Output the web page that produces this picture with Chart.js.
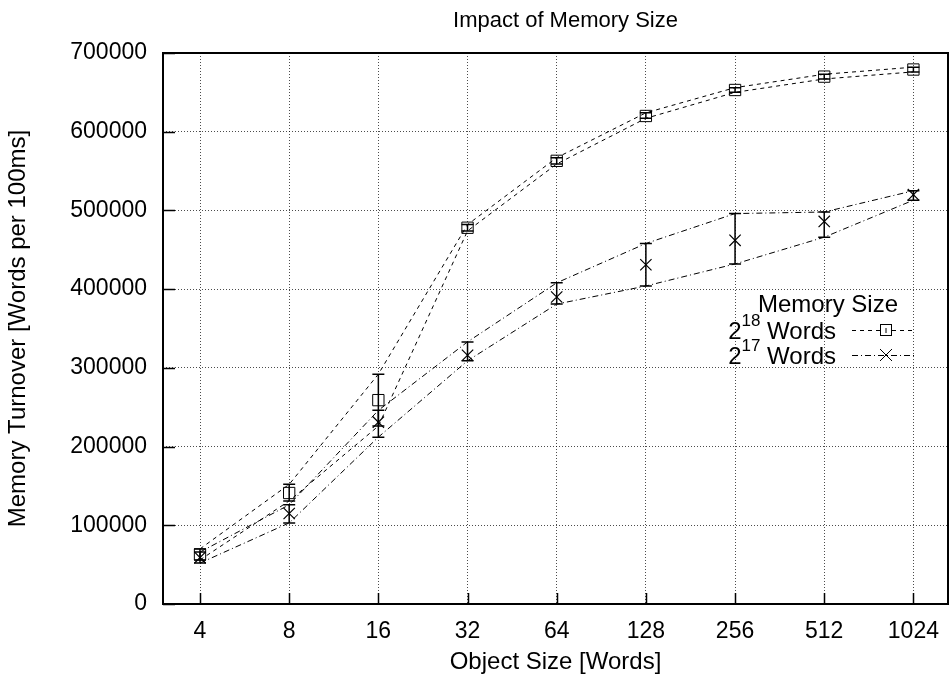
<!DOCTYPE html>
<html>
<head>
<meta charset="utf-8">
<script src="https://cdn.jsdelivr.net/npm/chart.js@4/dist/chart.umd.min.js"></script>
<style>
  html, body { margin: 0; padding: 0; background: #fff; }
  #wrap { width: 949px; height: 684px; }
</style>
</head>
<body>
<div id="wrap"><canvas id="myChart" width="949" height="684"></canvas></div>
<script>
// object sizes in words (x axis, log2 spacing)
var sizes = [4, 8, 16, 32, 64, 128, 256, 512, 1024];

// 2^18 words memory: mean and error range
var mem18Mean = [63000, 141000, 259000, 478000, 563000, 620000, 653000, 670000, 679000];
var mem18Low = [56000, 131000, 226000, 474000, 559000, 617000, 650000, 667000, 676000];
var mem18High = [70000, 152000, 292000, 482000, 567000, 624000, 656000, 673000, 682000];

// 2^17 words memory: mean and error range
var mem17Mean = [59000, 115000, 231000, 316000, 390000, 431000, 462000, 486000, 520000];
var mem17Low = [52000, 103000, 212000, 309000, 381000, 404000, 432000, 466000, 513000];
var mem17High = [66000, 126000, 246000, 333000, 408000, 458000, 496000, 498000, 525000];

var yTicks = [0, 100000, 200000, 300000, 400000, 500000, 600000, 700000];

var FONT = "'Liberation Sans', Arial, Helvetica, sans-serif";
var DASH18 = [4, 4];
var DASH17 = [6, 3, 1, 3];

function pts(arr) {
  return sizes.map(function (s, i) { return { x: s, y: arr[i] }; });
}

function lineSet(arr, dash) {
  return {
    data: pts(arr),
    borderColor: "#000",
    borderWidth: 1,
    borderDash: dash,
    pointRadius: 0,
    fill: false,
    tension: 0,
  };
}

var gnuplotExtras = {
  id: "gnuplotExtras",
  afterDatasetsDraw: function (chart) {
    var ctx = chart.ctx;
    var xs = chart.scales.x;
    var ys = chart.scales.y;
    var a = chart.chartArea;
    ctx.save();
    ctx.strokeStyle = "#000";
    ctx.setLineDash([]);

    // error bars
    ctx.lineWidth = 1.5;
    [[mem18Low, mem18High], [mem17Low, mem17High]].forEach(function (pair) {
      sizes.forEach(function (s, i) {
        var x = xs.getPixelForValue(s);
        var y1 = ys.getPixelForValue(pair[0][i]);
        var y2 = ys.getPixelForValue(pair[1][i]);
        ctx.beginPath();
        ctx.moveTo(x, y1);
        ctx.lineTo(x, y2);
        ctx.moveTo(x - 6, y1);
        ctx.lineTo(x + 6, y1);
        ctx.moveTo(x - 6, y2);
        ctx.lineTo(x + 6, y2);
        ctx.stroke();
      });
    });

    // inward tick marks
    ctx.lineWidth = 1.5;
    ctx.beginPath();
    ys.ticks.forEach(function (t) {
      var y = Math.round(ys.getPixelForValue(t.value)) + 0.5;
      ctx.moveTo(a.left, y);
      ctx.lineTo(a.left + 12, y);
    });
    xs.ticks.forEach(function (t) {
      var x = Math.round(xs.getPixelForValue(t.value)) + 0.5;
      ctx.moveTo(x, a.bottom);
      ctx.lineTo(x, a.bottom - 11);
    });
    ctx.stroke();

    // border frame
    ctx.lineWidth = 2;
    ctx.strokeRect(a.left, a.top, a.right - a.left, a.bottom - a.top);
    ctx.restore();
  },
  afterDraw: function (chart) {
    var ctx = chart.ctx;
    var a = chart.chartArea;
    ctx.save();
    ctx.fillStyle = "#000";
    ctx.strokeStyle = "#000";

    // chart title
    ctx.font = "22px " + FONT;
    ctx.textAlign = "center";
    ctx.textBaseline = "middle";
    ctx.fillText("Impact of Memory Size", (a.left + a.right) / 2 + 10, 21);

    // key, gnuplot style
    ctx.font = "24px " + FONT;
    ctx.fillText("Memory Size", 828, 305);
    var entries = [
      { exp: "18", y: 330, dash: DASH18, mark: "box" },
      { exp: "17", y: 355, dash: DASH17, mark: "cross" },
    ];
    entries.forEach(function (e) {
      var right = 836;
      ctx.textAlign = "left";
      ctx.textBaseline = "middle";
      ctx.font = "24px " + FONT;
      var wWords = ctx.measureText(" Words").width;
      var wTwo = ctx.measureText("2").width;
      ctx.font = "17px " + FONT;
      var wExp = ctx.measureText(e.exp).width;
      var x0 = right - wWords - wExp - wTwo;
      ctx.font = "24px " + FONT;
      ctx.fillText("2", x0, e.y + 2);
      ctx.fillText(" Words", x0 + wTwo + wExp, e.y + 2);
      ctx.font = "17px " + FONT;
      ctx.fillText(e.exp, x0 + wTwo, e.y - 9);

      ctx.lineWidth = 1;
      ctx.setLineDash(e.dash);
      ctx.beginPath();
      ctx.moveTo(852, e.y + 0.5);
      ctx.lineTo(915, e.y + 0.5);
      ctx.stroke();
      ctx.setLineDash([]);
      var mx = 886;
      if (e.mark === "box") {
        ctx.fillStyle = "#fff";
        ctx.fillRect(mx - 5.5, e.y - 5.5, 11, 11);
        ctx.strokeRect(mx - 5.5, e.y - 5.5, 11, 11);
        ctx.beginPath();
        ctx.moveTo(mx, e.y - 2);
        ctx.lineTo(mx, e.y + 3);
        ctx.stroke();
        ctx.fillStyle = "#000";
      } else {
        ctx.beginPath();
        ctx.moveTo(mx - 6, e.y - 6);
        ctx.lineTo(mx + 6, e.y + 6);
        ctx.moveTo(mx + 6, e.y - 6);
        ctx.lineTo(mx - 6, e.y + 6);
        ctx.stroke();
      }
    });
    ctx.restore();
  },
};

var ctx = document.getElementById("myChart").getContext("2d");
var myChart = new Chart(ctx, {
  type: "line",
  data: {
    datasets: [
      lineSet(mem18High, DASH18),
      lineSet(mem18Low, DASH18),
      lineSet(mem17High, DASH17),
      lineSet(mem17Low, DASH17),
      {
        data: pts(mem18Mean),
        showLine: false,
        pointStyle: "rect",
        pointRadius: 8,
        pointBorderWidth: 1,
        pointBorderColor: "#000",
        pointBackgroundColor: "rgba(0,0,0,0)",
      },
      {
        data: pts(mem17Mean),
        showLine: false,
        pointStyle: "crossRot",
        pointRadius: 8,
        pointBorderWidth: 1.2,
        pointBorderColor: "#000",
        pointBackgroundColor: "#000",
      },
    ],
  },
  options: {
    responsive: false,
    animation: false,
    devicePixelRatio: 1,
    layout: {
      autoPadding: false,
      padding: { top: 53, right: 1, left: 0, bottom: 0 },
    },
    plugins: {
      legend: { display: false },
      tooltip: { enabled: false },
      title: { display: false },
    },
    scales: {
      x: {
        type: "logarithmic",
        min: 3,
        max: 1340,
        afterBuildTicks: function (scale) {
          scale.ticks = sizes.map(function (v) { return { value: v }; });
        },
        afterFit: function (scale) {
          scale.height = 80;
          scale.paddingLeft = 0;
          scale.paddingRight = 0;
        },
        ticks: {
          autoSkip: false,
          maxRotation: 0,
          minRotation: 0,
          padding: 14,
          color: "#000",
          font: { family: FONT, size: 23 },
          callback: function (v) { return String(v); },
        },
        grid: { color: "rgba(0,0,0,0.7)", lineWidth: 1, drawTicks: false },
        border: { display: false, dash: [1, 2] },
        title: {
          display: true,
          text: "Object Size [Words]",
          color: "#000",
          font: { family: FONT, size: 24 },
          padding: { top: 0, bottom: 7 },
        },
      },
      y: {
        type: "linear",
        min: 0,
        max: 700000,
        afterBuildTicks: function (scale) {
          scale.ticks = yTicks.map(function (v) { return { value: v }; });
        },
        afterFit: function (scale) { scale.width = 163; },
        ticks: {
          padding: 16,
          color: "#000",
          font: { family: FONT, size: 23 },
          callback: function (v) { return String(v); },
        },
        grid: { color: "rgba(0,0,0,0.7)", lineWidth: 1, drawTicks: false },
        border: { display: false, dash: [1, 2] },
        title: {
          display: true,
          text: "Memory Turnover [Words per 100ms]",
          color: "#000",
          font: { family: FONT, size: 24 },
          padding: { top: 4, bottom: 0 },
        },
      },
    },
  },
  plugins: [gnuplotExtras],
});
</script>
</body>
</html>
